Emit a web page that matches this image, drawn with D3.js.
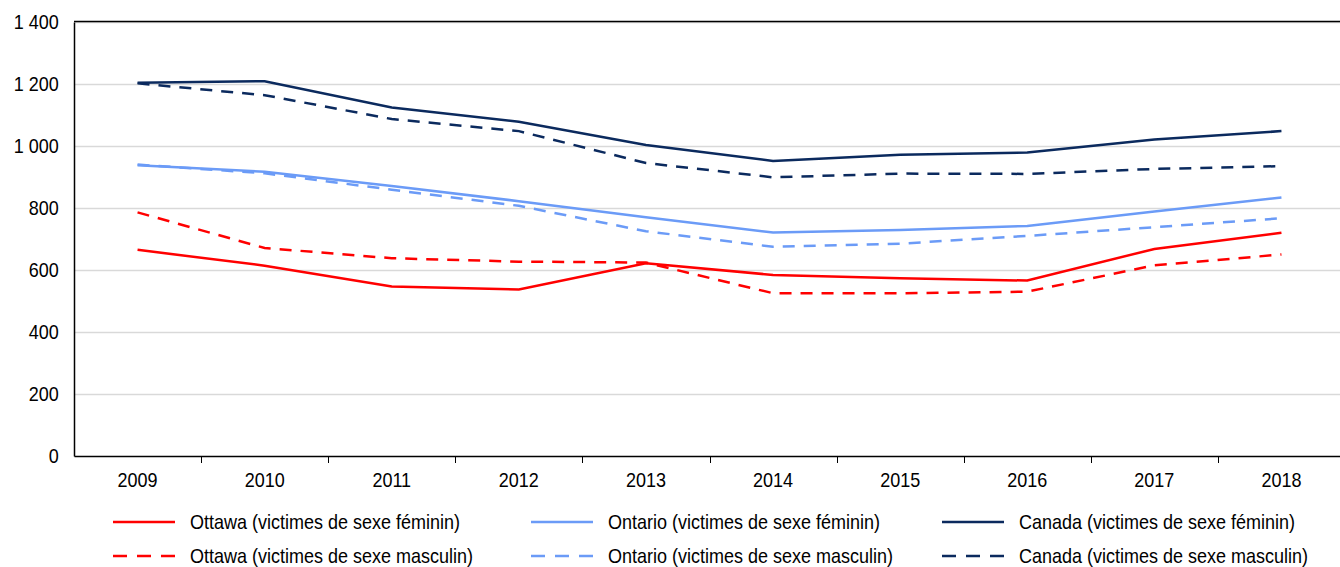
<!DOCTYPE html>
<html>
<head>
<meta charset="utf-8">
<script src="https://cdn.jsdelivr.net/npm/d3@7"></script>
<style>
  body { margin: 0; background: #fff; }
  svg { display: block; }
  text { font-family: "Liberation Sans", Arial, sans-serif; fill: #000; }
  .grid line { stroke: #d9d9d9; stroke-width: 1.5; }
</style>
</head>
<body>
<svg></svg>
<script>
// data
var years = [2009, 2010, 2011, 2012, 2013, 2014, 2015, 2016, 2017, 2018];
var yTicks = [0, 200, 400, 600, 800, 1000, 1200, 1400];

var ottawaF = [665, 614, 547, 537, 622, 584, 573, 566, 668, 720];
var ottawaM = [786, 671, 638, 627, 624, 525, 525, 530, 615, 650];
var ontarioF = [938, 917, 871, 822, 770, 721, 729, 742, 789, 834];
var ontarioM = [940, 912, 859, 807, 725, 675, 685, 710, 738, 767];
var canadaF = [1204, 1209, 1124, 1078, 1003, 952, 972, 979, 1021, 1048];
var canadaM = [1202, 1164, 1087, 1048, 945, 899, 911, 910, 926, 935];

var seriesNames = [
    "Ottawa (victimes de sexe féminin)", "Ontario (victimes de sexe féminin)", "Canada (victimes de sexe féminin)",
    "Ottawa (victimes de sexe masculin)", "Ontario (victimes de sexe masculin)", "Canada (victimes de sexe masculin)"
];
var seriesValues = [ottawaF, ontarioF, canadaF, ottawaM, ontarioM, canadaM];
var seriesColors = ["#ff0000", "#6b9bf7", "#0b2a5e", "#ff0000", "#6b9bf7", "#0b2a5e"];
var seriesDashed = [false, false, false, true, true, true];

// the reference uses a condensed face; squeeze Liberation Sans instead
var squeeze = "scale(0.9,1)";

var svgWidth = 1340, svgHeight = 567;
var svg = d3.select("svg")
    .attr("width", svgWidth)
    .attr("height", svgHeight);

var plotLeft = 74, plotRight = 1345, plotTop = 22, plotBottom = 456;

var x = d3.scaleBand().domain(years).range([plotLeft, plotRight]);
var y = d3.scaleLinear().domain([0, 1400]).range([plotBottom, plotTop]);

// gridlines
svg.append("g")
    .attr("class", "grid")
    .selectAll("line")
    .data(yTicks.filter(d => d > 0))
    .enter()
    .append("line")
    .attr("x1", plotLeft)
    .attr("x2", svgWidth)
    .attr("y1", d => y(d) + 0.5)
    .attr("y2", d => y(d) + 0.5);

// top frame line
svg.append("line")
    .attr("x1", plotLeft)
    .attr("x2", svgWidth)
    .attr("y1", plotTop - 0.5)
    .attr("y2", plotTop - 0.5)
    .attr("stroke", "#000")
    .attr("stroke-width", 1.5);

// y axis
var yAxis = svg.append("g")
    .attr("transform", "translate(" + plotLeft + ",0)")
    .call(d3.axisLeft(y).tickValues(yTicks).tickSize(0).tickPadding(17)
        .tickFormat(d => d3.format(",")(d).replace(",", " ")));
yAxis.select(".domain").attr("stroke", "#000").attr("stroke-width", 1.5);
yAxis.selectAll("text")
    .style("font-size", "20px")
    .attr("transform", squeeze);

// x axis, ticks at category boundaries
var xAxis = svg.append("g")
    .attr("transform", "translate(0," + plotBottom + ")")
    .call(d3.axisBottom(x).tickSize(0).tickPadding(17));
xAxis.select(".domain").attr("stroke", "#000").attr("stroke-width", 1.5);
xAxis.selectAll("text")
    .style("font-size", "20px")
    .attr("transform", squeeze);
xAxis.selectAll(".boundary")
    .data(years.slice(1))
    .enter()
    .append("line")
    .attr("x1", d => Math.round(x(d)) + 0.5)
    .attr("x2", d => Math.round(x(d)) + 0.5)
    .attr("y1", 0)
    .attr("y2", 7)
    .attr("stroke", "#000")
    .attr("stroke-width", 1);

// lines
var line = d3.line()
    .x((d, i) => x(years[i]) + x.bandwidth() / 2)
    .y(d => y(d));

var drawOrder = [3, 0, 4, 1, 5, 2];
drawOrder.forEach(function (k) {
    svg.append("path")
        .datum(seriesValues[k])
        .attr("fill", "none")
        .attr("stroke", seriesColors[k])
        .attr("stroke-width", 2.5)
        .attr("stroke-dasharray", seriesDashed[k] ? "12,9" : null)
        .attr("d", line);
});

// legend
var legendCols = [113, 531, 942];
var legendRows = [522, 556];
var legend = svg.append("g").attr("class", "legend");
seriesNames.forEach(function (name, k) {
    var cx = legendCols[k % 3], cy = legendRows[Math.floor(k / 3)];
    legend.append("line")
        .attr("x1", cx)
        .attr("x2", cx + 62)
        .attr("y1", cy)
        .attr("y2", cy)
        .attr("stroke", seriesColors[k])
        .attr("stroke-width", 2.5)
        .attr("stroke-dasharray", seriesDashed[k] ? "14,10" : null);
    legend.append("text")
        .attr("transform", "translate(" + (cx + 77) + "," + (cy + 7) + ") " + squeeze)
        .style("font-size", "20px")
        .text(name);
});
</script>
</body>
</html>
